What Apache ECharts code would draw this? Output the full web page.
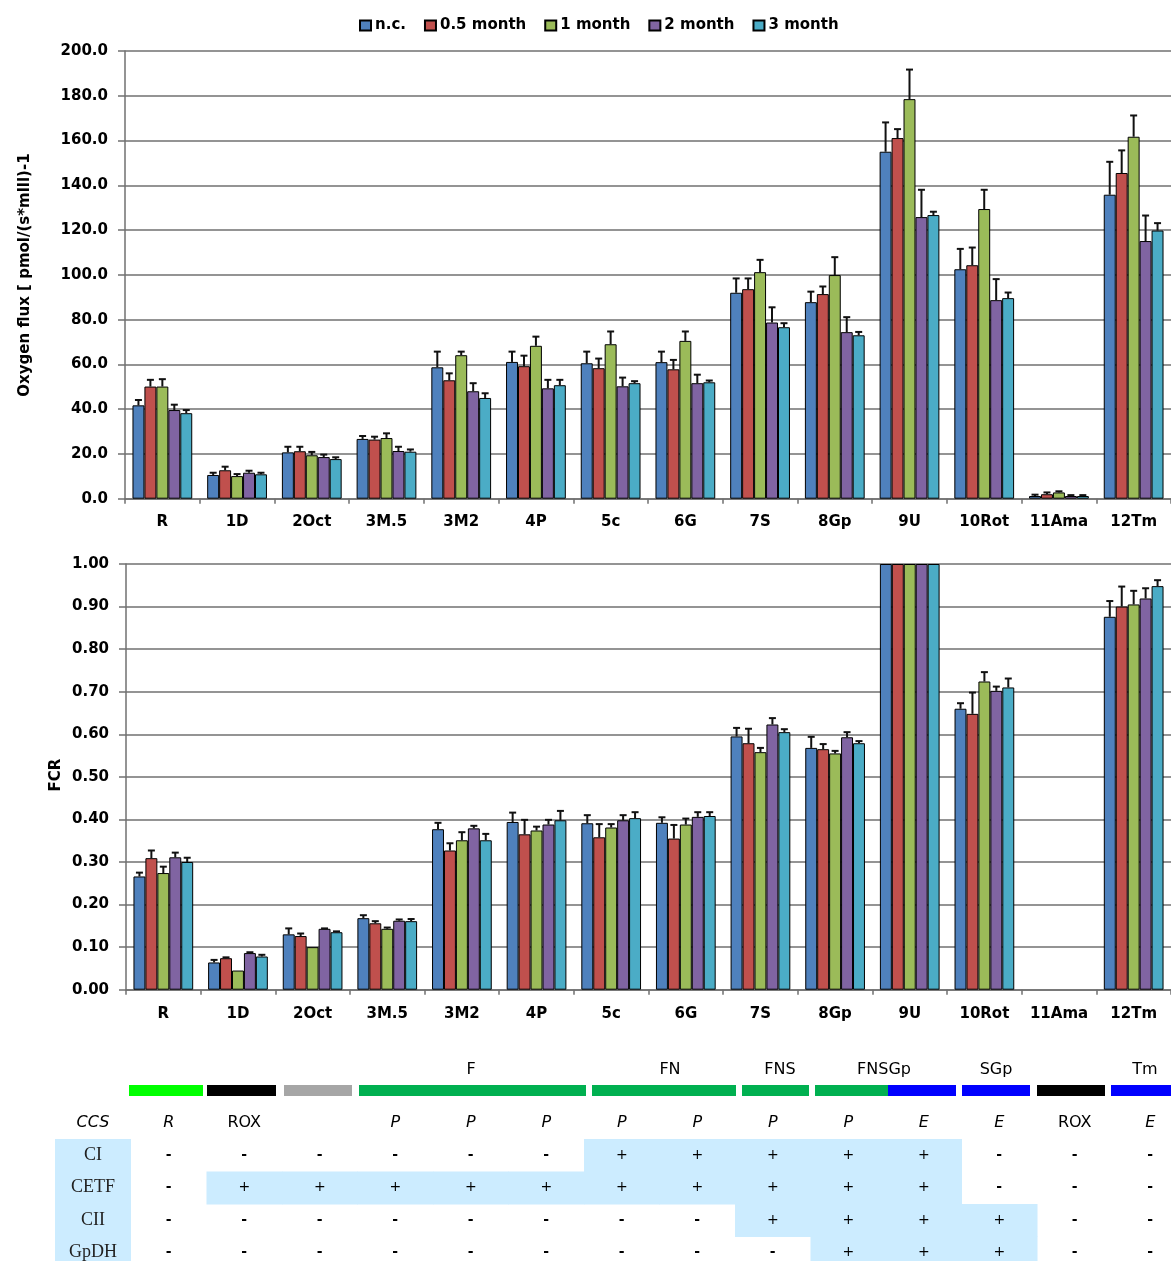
<!DOCTYPE html>
<html>
<head>
<meta charset="utf-8">
<script src="https://cdn.jsdelivr.net/npm/echarts@6/dist/echarts.min.js"></script>
<style>
html,body{margin:0;padding:0;background:#fff;}
#chart{width:1171px;height:1261px;}
</style>
</head>
<body>
<div id="chart"></div>
<script>
// ---------- DATA ----------
const categories = ['R','1D','2Oct','3M.5','3M2','4P','5c','6G','7S','8Gp','9U','10Rot','11Ama','12Tm'];
const seriesNames = ['n.c.','0.5 month','1 month','2 month','3 month'];

// Oxygen flux (top panel)
const fluxNC  = [41.7, 10.6, 20.7, 26.7, 58.7, 61.1, 60.5, 61.0, 92.0, 87.8, 155.0, 102.5, 1.2, 135.8];
const flux05  = [50.1, 12.7, 21.2, 26.4, 52.9, 59.2, 58.3, 57.8, 93.6, 91.4, 161.1, 104.3, 2.0, 145.5];
const flux1   = [50.1, 10.1, 19.4, 27.1, 64.1, 68.3, 69.0, 70.5, 101.2, 99.9, 178.5, 129.4, 2.8, 161.7];
const flux2   = [39.6, 11.6, 18.6, 21.3, 48.0, 49.3, 50.2, 51.6, 78.7, 74.4, 125.8, 88.7, 1.2, 115.1];
const flux3   = [38.2, 10.9, 17.7, 21.0, 45.0, 50.7, 51.6, 52.0, 76.6, 73.0, 126.7, 89.6, 1.2, 119.8];
// upper error (SD) of oxygen flux
const fluxNCErr = [2.4, 1.0, 2.5, 1.3, 7.0, 4.6, 5.2, 4.7, 6.4, 4.7, 13.1, 9.1, 0.6, 14.7];
const flux05Err = [3.0, 1.6, 2.0, 1.3, 3.1, 4.7, 4.3, 4.2, 4.8, 3.4, 4.0, 7.9, 0.8, 10.1];
const flux1Err  = [3.3, 0.9, 1.5, 2.1, 1.6, 4.1, 5.7, 4.2, 5.5, 8.0, 13.2, 8.6, 0.5, 9.5];
const flux2Err  = [2.4, 0.9, 1.1, 1.9, 3.6, 3.8, 3.9, 3.8, 6.8, 6.7, 12.2, 9.4, 0.4, 11.4];
const flux3Err  = [1.4, 0.7, 0.8, 1.0, 2.1, 2.4, 0.9, 0.8, 1.8, 1.5, 1.5, 2.5, 0.4, 3.3];

// FCR (bottom panel)
const fcrNC = [0.266, 0.064, 0.130, 0.168, 0.377, 0.394, 0.391, 0.392, 0.595, 0.568, 1.0, 0.660, null, 0.876];
const fcr05 = [0.309, 0.074, 0.126, 0.156, 0.327, 0.365, 0.358, 0.355, 0.579, 0.565, 1.0, 0.648, null, 0.900];
const fcr1  = [0.274, 0.045, 0.100, 0.143, 0.351, 0.374, 0.381, 0.388, 0.558, 0.555, 1.0, 0.724, null, 0.905];
const fcr2  = [0.311, 0.086, 0.143, 0.162, 0.379, 0.388, 0.398, 0.406, 0.623, 0.593, 1.0, 0.702, null, 0.919];
const fcr3  = [0.300, 0.078, 0.135, 0.161, 0.351, 0.398, 0.403, 0.408, 0.605, 0.579, 1.0, 0.710, null, 0.948];
const fcrNCErr = [0.009, 0.006, 0.014, 0.007, 0.015, 0.022, 0.019, 0.013, 0.020, 0.026, null, 0.013, null, 0.037];
const fcr05Err = [0.018, 0.002, 0.006, 0.005, 0.017, 0.034, 0.031, 0.032, 0.034, 0.012, null, 0.050, null, 0.047];
const fcr1Err  = [0.015, 0, 0, 0.003, 0.019, 0.009, 0.008, 0.014, 0.010, 0.006, null, 0.022, null, 0.032];
const fcr2Err  = [0.011, 0.002, 0.001, 0.003, 0.006, 0.011, 0.012, 0.011, 0.015, 0.012, null, 0.010, null, 0.024];
const fcr3Err  = [0.010, 0.004, 0.002, 0.005, 0.015, 0.022, 0.014, 0.009, 0.007, 0.005, null, 0.021, null, 0.014];

// Table below
const groupLabels = ['F','FN','FNS','FNSGp','SGp','Tm'];
const ccsRow  = ['R','ROX','','P','P','P','P','P','P','P','E','E','ROX','E'];
const rowLabels = ['CI','CETF','CII','GpDH'];
const rowCI   = ['-','-','-','-','-','-','+','+','+','+','+','-','-','-'];
const rowCETF = ['-','+','+','+','+','+','+','+','+','+','+','-','-','-'];
const rowCII  = ['-','-','-','-','-','-','-','-','+','+','+','+','-','-'];
const rowGpDH = ['-','-','-','-','-','-','-','-','-','+','+','+','-','-'];

// ---------- STYLE / LAYOUT ----------
const colors = ['#4F81BD','#C0504D','#9BBB59','#8064A2','#4BACC6'];
const FONT = 'DejaVu Sans';
const gridColor = '#707070';

const fluxVals = [fluxNC, flux05, flux1, flux2, flux3];
const fluxErrs = [fluxNCErr, flux05Err, flux1Err, flux2Err, flux3Err];
const fcrVals = [fcrNC, fcr05, fcr1, fcr2, fcr3];
const fcrErrs = [fcrNCErr, fcr05Err, fcr1Err, fcr2Err, fcr3Err];

function barSeries(k, vals, axis) {
  return {
    name: seriesNames[k], type: 'bar', xAxisIndex: axis, yAxisIndex: axis,
    data: vals, barGap: '0%', barCategoryGap: '20%',
    itemStyle: { color: colors[k], borderColor: '#000', borderWidth: 1 },
    emphasis: { disabled: true }
  };
}
function errSeries(k, vals, errs, axis) {
  const data = [];
  vals.forEach((v, i) => { if (v != null && errs[i] != null && errs[i] > 0) data.push([i, v, errs[i]]); });
  return {
    type: 'custom', xAxisIndex: axis, yAxisIndex: axis, z: 5, silent: true,
    data: data, encode: { x: 0, y: 1 },
    renderItem: function (params, api) {
      const i = api.value(0), v = api.value(1), e = api.value(2);
      const p0 = api.coord([i, v]);
      const p1 = api.coord([i, v + e]);
      const band = api.size([1, 0])[0];
      const bw = band * 0.8 / 5;
      const x = p0[0] + (k - 2) * bw;
      const st = { stroke: '#111', lineWidth: 2 };
      return { type: 'group', children: [
        { type: 'line', shape: { x1: x, y1: p0[1], x2: x, y2: p1[1] }, style: st },
        { type: 'line', shape: { x1: x - 3.5, y1: p1[1], x2: x + 3.5, y2: p1[1] }, style: st }
      ]};
    }
  };
}

const series = [];
for (let k = 0; k < 5; k++) series.push(barSeries(k, fluxVals[k], 0));
for (let k = 0; k < 5; k++) series.push(barSeries(k, fcrVals[k], 1));
for (let k = 0; k < 5; k++) series.push(errSeries(k, fluxVals[k], fluxErrs[k], 0));
for (let k = 0; k < 5; k++) series.push(errSeries(k, fcrVals[k], fcrErrs[k], 1));

const axisLabelStyle = { fontFamily: FONT, fontSize: 15, fontWeight: 'bold', color: '#000' };

function xAx(gi, margin) {
  return {
    type: 'category', gridIndex: gi, data: categories,
    axisLine: { lineStyle: { color: gridColor, width: 1.5 } },
    axisTick: { show: true, interval: 0, length: 5, lineStyle: { color: gridColor, width: 1.5 } },
    axisLabel: Object.assign({ interval: 0, margin: margin }, axisLabelStyle)
  };
}
function yAx(gi, max, interval, dec) {
  return {
    type: 'value', gridIndex: gi, min: 0, max: max, interval: interval,
    axisLine: { show: true, lineStyle: { color: gridColor, width: 1.5 } },
    axisTick: { show: true, length: 7, lineStyle: { color: gridColor, width: 1.5 } },
    splitLine: { show: true, lineStyle: { color: gridColor, width: 1.5 } },
    axisLabel: Object.assign({ margin: 17, formatter: v => v.toFixed(dec) }, axisLabelStyle)
  };
}

// table layout
const TBL_LEFT = 131, COL_W = 75.5;
const colCenter = i => TBL_LEFT + COL_W * (i + 0.5);
const colEdge = i => TBL_LEFT + COL_W * i;
const ROW_TOP = 1139, ROW_H = 32.5;
const segLayout = [
  [129, 203, '#00ff00'], [207, 276, '#000000'], [284, 352, '#a6a6a6'],
  [359, 586, '#00b050'], [592, 736, '#00b050'], [742, 809, '#00b050'],
  [815, 888, '#00b050'], [888, 956, '#0000ff'], [962, 1030, '#0000ff'],
  [1037, 1105, '#000000'], [1111, 1180, '#0000ff']
];
const groupLabelX = [471, 670, 780, 884, 996, 1145];
const marks = [rowCI, rowCETF, rowCII, rowGpDH];

const graphics = [];
// axis names
graphics.push({ type: 'text', x: 25, y: 275, rotation: Math.PI / 2,
  style: { text: 'Oxygen flux [ pmol/(s*mlll)-1', fontFamily: FONT, fontSize: 15, fontWeight: 'bold', fill: '#000', align: 'center', verticalAlign: 'middle' } });
graphics.push({ type: 'text', x: 56, y: 775, rotation: Math.PI / 2,
  style: { text: 'FCR', fontFamily: FONT, fontSize: 15, fontWeight: 'bold', fill: '#000', align: 'center', verticalAlign: 'middle' } });
// highlighted cells
graphics.push({ type: 'rect', shape: { x: 55, y: ROW_TOP, width: 76, height: ROW_H * 4 }, style: { fill: '#CCECFF' } });
marks.forEach((row, r) => {
  row.forEach((m, c) => {
    if (m === '+') graphics.push({ type: 'rect', shape: { x: colEdge(c), y: ROW_TOP + r * ROW_H, width: COL_W + 0.5, height: ROW_H + 0.5 }, style: { fill: '#CCECFF' } });
  });
});
// colour segments
segLayout.forEach(s => graphics.push({ type: 'rect', shape: { x: s[0], y: 1085, width: s[1] - s[0], height: 11 }, style: { fill: s[2] } }));
// group labels
groupLabels.forEach((g, i) => graphics.push({ type: 'text', x: groupLabelX[i], y: 1070,
  style: { text: g, fontFamily: FONT, fontSize: 16, fill: '#000', align: 'center', verticalAlign: 'middle' } }));
// CCS row
graphics.push({ type: 'text', x: 93, y: 1123, style: { text: 'CCS', fontFamily: FONT, fontSize: 16, fontStyle: 'italic', fill: '#000', align: 'center', verticalAlign: 'middle' } });
ccsRow.forEach((t, c) => {
  if (!t) return;
  graphics.push({ type: 'text', x: colCenter(c), y: 1123,
    style: { text: t, fontFamily: FONT, fontSize: 16, fontStyle: t === 'ROX' ? 'normal' : 'italic', fill: '#000', align: 'center', verticalAlign: 'middle' } });
});
// row labels and marks
rowLabels.forEach((l, r) => {
  const y = ROW_TOP + r * ROW_H + ROW_H / 2;
  graphics.push({ type: 'text', x: 93, y: y, style: { text: l, fontFamily: 'Liberation Serif', fontSize: 18, fill: '#222', align: 'center', verticalAlign: 'middle' } });
  marks[r].forEach((m, c) => graphics.push({ type: 'text', x: colCenter(c), y: y,
    style: { text: m, fontFamily: FONT, fontSize: 14, fontWeight: m === '-' ? 'bold' : 'normal', fill: '#000', align: 'center', verticalAlign: 'middle' } }));
});

const chart = echarts.init(document.getElementById('chart'));
chart.setOption({
  animation: false,
  backgroundColor: '#fff',
  color: colors,
  legend: {
    data: seriesNames, left: 354, top: 13, itemWidth: 11, itemHeight: 10, itemGap: 18,
    icon: 'rect', selectedMode: false,
    textStyle: { fontFamily: FONT, fontSize: 15, fontWeight: 'bold', color: '#000', padding: [0, 0, 0, -1] }
  },
  grid: [
    { left: 125, top: 51, width: 1051, height: 447.7 },
    { left: 126, top: 564, width: 1054, height: 425.7 }
  ],
  xAxis: [xAx(0, 16), xAx(1, 17)],
  yAxis: [yAx(0, 200, 20, 1), yAx(1, 1, 0.1, 2)],
  series: series,
  graphic: graphics
});
</script>
</body>
</html>
